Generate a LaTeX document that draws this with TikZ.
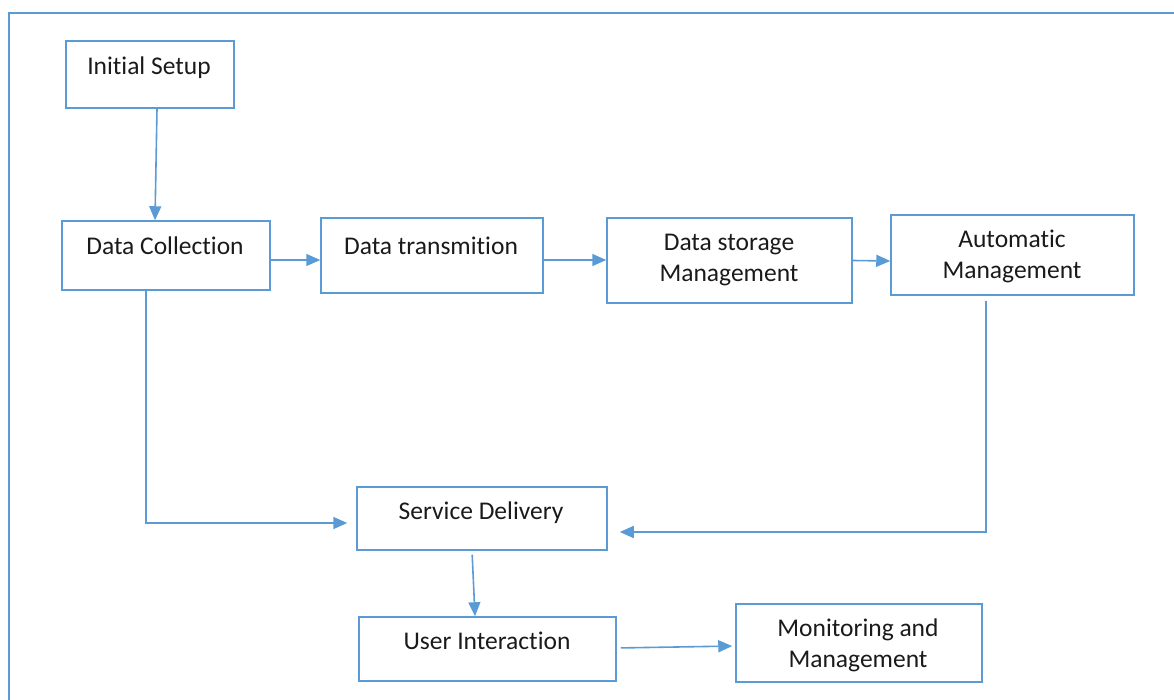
\documentclass[tikz,border=0pt]{standalone}
\usepackage{fontspec}
\setmainfont{Carlito}[RawFeature={-liga;-dlig;-clig}]
\usetikzlibrary{arrows.meta}
\definecolor{boxblue}{HTML}{5B9BD5}
\definecolor{txt}{HTML}{1A1A1A}
\begin{document}
\begin{tikzpicture}[x=1pt,y=-1pt,
  box/.style={draw=boxblue,line width=1.5pt,inner sep=0pt,minimum width=#1},
  lbl/.style={text=txt,font=\fontsize{25.5}{31}\selectfont,inner sep=0pt,align=center},
  conn/.style={draw=boxblue,line width=1.6pt,-{Triangle[length=14pt,width=12pt]}}]
\useasboundingbox (0,0) rectangle (1174,700);
\begin{scope}
\clip (0,0) rectangle (1174,700);
\draw[boxblue,line width=1.5pt] (9,710) -- (9,13) -- (1180,13);
\end{scope}
% boxes
\node[box=168pt,minimum height=67pt] (is) at (150,74.5) {};
\node[box=208pt,minimum height=69pt] (dc) at (166,255.5) {};
\node[box=222pt,minimum height=75pt] (dt) at (432,255.5) {};
\node[box=245pt,minimum height=85pt] (ds) at (729.5,260.5) {};
\node[box=243pt,minimum height=80pt] (am) at (1012.5,255) {};
\node[box=250pt,minimum height=63pt] (sd) at (482,518.5) {};
\node[box=257pt,minimum height=64pt] (ui) at (487.5,649) {};
\node[box=246pt,minimum height=78pt] (mm) at (859,643) {};
% labels
\node[lbl,anchor=base] (tis) at (149,74.5) {Initial Setup};
\node[lbl,anchor=base] (tdc) at (165,254.5) {Data Collection};
\node[lbl,anchor=base] (tdt) at (431,254.5) {Data transmition};
\node[lbl] (tds) at (729,260) {Data storage\\Management};
\node[lbl] (tam) at (1012,256.5) {Automatic\\Management};
\node[lbl,anchor=base] (tsd) at (481,519.5) {Service Delivery};
\node[lbl,anchor=base] (tui) at (487,649.5) {User Interaction};
\node[lbl] (tmm) at (858,645.5) {Monitoring and\\Management};
% connectors
\draw[conn] ([xshift=7pt]is.south) -- ([xshift=-11pt]dc.north);
\draw[conn] ([yshift=-4.5pt]dc.east) -- ([yshift=-4.5pt]dt.west);
\draw[conn] ([yshift=-4.5pt]dt.east) -- ([yshift=0.5pt]ds.west);
\draw[conn] (ds.east) -- ([yshift=-6pt]am.west);
\draw[conn,shorten >=9pt] ([xshift=-20pt]dc.south) |- ([yshift=-4.5pt]sd.west);
\draw[conn,shorten <=5pt,shorten >=12pt] ([xshift=-26.5pt]am.south) |- ([yshift=-13.5pt]sd.east);
\draw[conn,shorten <=4pt] ([xshift=-10pt]sd.south) -- ([xshift=-12.5pt]ui.north);
\draw[conn,shorten <=4pt,shorten >=3pt] ([yshift=1pt]ui.east) -- ([yshift=-3pt]mm.west);
\end{tikzpicture}
\end{document}
